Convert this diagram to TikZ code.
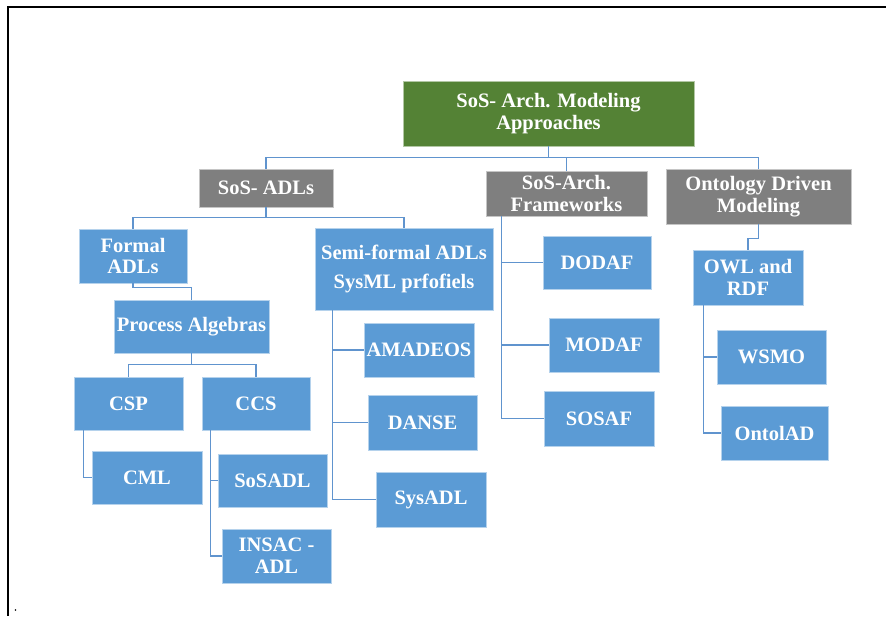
\documentclass[tikz,border=0pt]{standalone}
\usepackage{fontspec}
\setmainfont{Liberation Serif}
\definecolor{boxblue}{RGB}{91,155,213}
\definecolor{boxgrey}{RGB}{127,127,127}
\definecolor{boxgreen}{RGB}{84,130,53}
\definecolor{connblue}{RGB}{96,148,206}
\tikzset{
  basebox/.style={rectangle, text=white, align=center, inner sep=1pt, line width=0.9pt,
    font=\bfseries\fontsize{20.5}{21.7}\selectfont},
  bluebox/.style={basebox, fill=boxblue, draw=white!55!boxblue},
  greybox/.style={basebox, fill=boxgrey, draw=white!55!boxgrey},
  greenbox/.style={basebox, fill=boxgreen, draw=white!55!boxgreen},
  conn/.style={draw=connblue, line width=1.5pt},
  frameline/.style={draw=black, line width=2.3pt}
}
\begin{document}
\begin{tikzpicture}[x=1pt, y=-1pt]
\useasboundingbox (0,0) rectangle (886,616);
\fill[white] (0,0) rectangle (886,616);
% frame (top and left edges)
\coordinate (fTL) at (8,6.8);
\coordinate (fTR) at (886,6.8);
\coordinate (fBL) at (8,616);
\draw[frameline] (fTR) -- (fTL) -- (fBL);
\fill (15.5,610) circle (0.8);

% nodes
\node[greenbox, minimum width=291pt, minimum height=65pt] (green) at (548.5,113.5) {SoS- Arch. Modeling\\Approaches};
\node[greybox, minimum width=134pt, minimum height=38pt] (adls) at (266,188) {SoS- ADLs};
\node[greybox, minimum width=161pt, minimum height=45pt] (frameworks) at (566.5,193.5) {\raisebox{3pt}{\parbox{158pt}{\centering SoS-Arch.\\Frameworks}}};
\node[greybox, minimum width=185pt, minimum height=55pt] (ontology) at (758.5,196.5) {Ontology Driven\\Modeling};
\node[bluebox, minimum width=108pt, minimum height=54pt] (formal) at (133,256) {Formal\\ADLs};
\node[bluebox, minimum width=178pt, minimum height=82pt] (semi) at (404,269) {Semi-formal ADLs\\[8pt]SysML prfofiels};
\node[bluebox, minimum width=155pt, minimum height=53pt] (process) at (191.5,326.5) {Process Algebras};
\node[bluebox, minimum width=109pt, minimum height=53pt] (csp) at (128.5,403.5) {CSP};
\node[bluebox, minimum width=108pt, minimum height=53pt] (ccs) at (256,403.5) {CCS};
\node[bluebox, minimum width=110pt, minimum height=53pt] (cml) at (147,477.5) {CML};
\node[bluebox, minimum width=109pt, minimum height=53pt] (sosadl) at (272.5,480.5) {SoSADL};
\node[bluebox, minimum width=109pt, minimum height=54pt] (insac) at (276.5,556) {INSAC -\\ADL};
\node[bluebox, minimum width=110pt, minimum height=54pt] (amadeos) at (419,350) {AMADEOS};
\node[bluebox, minimum width=109pt, minimum height=55pt] (danse) at (422.5,422.5) {DANSE};
\node[bluebox, minimum width=110pt, minimum height=55pt] (sysadl) at (431,499.5) {SysADL};
\node[bluebox, minimum width=108pt, minimum height=53pt] (dodaf) at (597,262.5) {DODAF};
\node[bluebox, minimum width=110pt, minimum height=54pt] (modaf) at (604,345) {MODAF};
\node[bluebox, minimum width=110pt, minimum height=55pt] (sosaf) at (599,418.5) {SOSAF};
\node[bluebox, minimum width=110pt, minimum height=55pt] (owl) at (748,277.5) {OWL and\\RDF};
\node[bluebox, minimum width=109pt, minimum height=54pt] (wsmo) at (771.5,357) {WSMO};
\node[bluebox, minimum width=107pt, minimum height=54pt] (ontolad) at (774.5,433) {OntolAD};

% connectors
\draw[conn] (green.south) -- ++(0,11) coordinate (j0);
\draw[conn] (adls.north) |- (j0) -| (ontology.north);
\draw[conn] (frameworks.north) -- (frameworks.north |- j0);

\draw[conn] (adls.south) -- ++(0,10) coordinate (j1);
\draw[conn] (formal.north) |- (j1) -| (semi.north);

\draw[conn] (formal.south) -- ++(0,4) -| (process.north);

\draw[conn] (process.south) -- ++(0,11) coordinate (j2);
\draw[conn] (csp.north) |- (j2) -| (ccs.north);

\draw[conn] ([xshift=10pt]csp.south west) |- (cml.west);

\draw[conn] ([xshift=9pt]ccs.south west) coordinate (k1) |- (insac.west);
\draw[conn] (sosadl.west) -| (k1);

\draw[conn] ([xshift=18pt]semi.south west) coordinate (k2) |- (sysadl.west);
\draw[conn] (amadeos.west) -| (k2);
\draw[conn] (danse.west) -| (k2);

\draw[conn] ([xshift=16pt]frameworks.south west) coordinate (k3) |- (sosaf.west);
\draw[conn] (dodaf.west) -| (k3);
\draw[conn] (modaf.west) -| (k3);

\draw[conn] (ontology.south) -- ++(0,14) -| (owl.north);

\draw[conn] ([xshift=11pt]owl.south west) coordinate (k4) |- (ontolad.west);
\draw[conn] (wsmo.west) -| (k4);
\end{tikzpicture}
\end{document}
